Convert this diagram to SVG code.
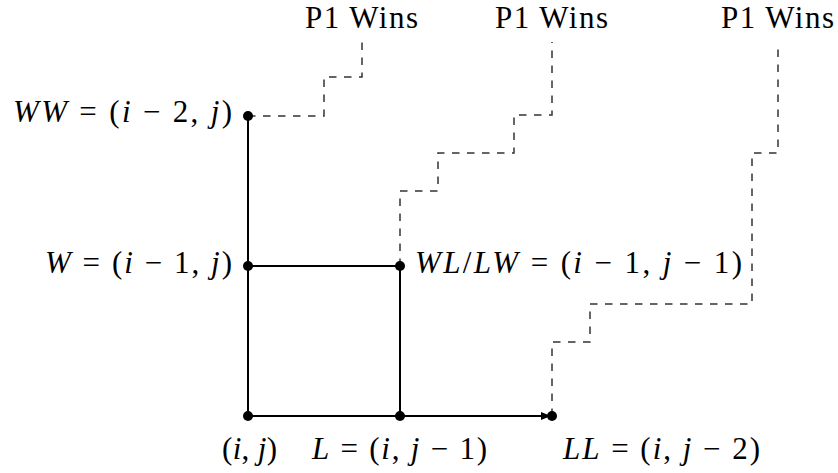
<svg xmlns="http://www.w3.org/2000/svg" width="838" height="473" viewBox="0 0 838 473">
<defs>
<style>
.edge{stroke:#000;stroke-width:2;fill:none}
.dash{stroke:#333;stroke-width:1.5;fill:none;stroke-dasharray:7.5 7.5}
.dot{fill:#000}
text{font-size:31px;fill:#000}
.it{font-style:italic}
</style>
<marker id="arr" viewBox="0 0 10 10" refX="9" refY="5" markerWidth="5" markerHeight="5" orient="auto">
<path d="M0,1 L10,5 L0,9 z" fill="#000"/>
</marker>
</defs>
<rect width="838" height="473" fill="#fff"/>
<g id="connectors">
<line class="edge" x1="248" y1="416" x2="248" y2="116"/>
<line class="edge" x1="248" y1="266" x2="400" y2="266"/>
<line class="edge" x1="400" y1="266" x2="400" y2="416"/>
<line class="edge" x1="248" y1="416" x2="400" y2="416"/>
<line class="edge" x1="400" y1="416" x2="550" y2="416" marker-end="url(#arr)"/>
<path class="dash" d="M248,116 H324 V77 H362 V42"/>
<path class="dash" d="M400,266 V191 H438 V153 H514 V115 H552 V42"/>
<path class="dash" d="M552,416 V342 H590 V304 H752 V153 H778 V42"/>
</g>
<g id="labels" font-family="Liberation Serif, serif">
<g id="win1"><text x="305" y="28" textLength="113" lengthAdjust="spacing">P1 Wins</text></g>
<g id="win2"><text x="495" y="28" textLength="113" lengthAdjust="spacing">P1 Wins</text></g>
<g id="win3"><text x="721" y="28" textLength="113" lengthAdjust="spacing">P1 Wins</text></g>
</g>
<g id="nodes" font-family="Liberation Serif, serif">
<g id="node-ww">
<circle class="dot" cx="248" cy="116" r="5"/>
<text x="13" y="122" textLength="219" lengthAdjust="spacing"><tspan class="it">WW</tspan> = (<tspan class="it">i</tspan> − 2, <tspan class="it">j</tspan>)</text>
</g>
<g id="node-w">
<circle class="dot" cx="248" cy="266" r="5"/>
<text x="45" y="273" textLength="187" lengthAdjust="spacing"><tspan class="it">W</tspan> = (<tspan class="it">i</tspan> − 1, <tspan class="it">j</tspan>)</text>
</g>
<g id="node-wl">
<circle class="dot" cx="400" cy="266" r="5"/>
<text x="415" y="273" textLength="327" lengthAdjust="spacing"><tspan class="it">WL</tspan>/<tspan class="it">LW</tspan> = (<tspan class="it">i</tspan> − 1, <tspan class="it">j</tspan> − 1)</text>
</g>
<g id="node-ij">
<circle class="dot" cx="248" cy="416" r="5"/>
<text x="222" y="459" textLength="55" lengthAdjust="spacing">(<tspan class="it">i</tspan>, <tspan class="it">j</tspan>)</text>
</g>
<g id="node-l">
<circle class="dot" cx="400" cy="416" r="5"/>
<text x="312" y="459" textLength="175" lengthAdjust="spacing"><tspan class="it">L</tspan> = (<tspan class="it">i</tspan>, <tspan class="it">j</tspan> − 1)</text>
</g>
<g id="node-ll">
<circle class="dot" cx="552" cy="416" r="5"/>
<text x="563" y="459" textLength="197" lengthAdjust="spacing"><tspan class="it">LL</tspan> = (<tspan class="it">i</tspan>, <tspan class="it">j</tspan> − 2)</text>
</g>
</g>
</svg>
